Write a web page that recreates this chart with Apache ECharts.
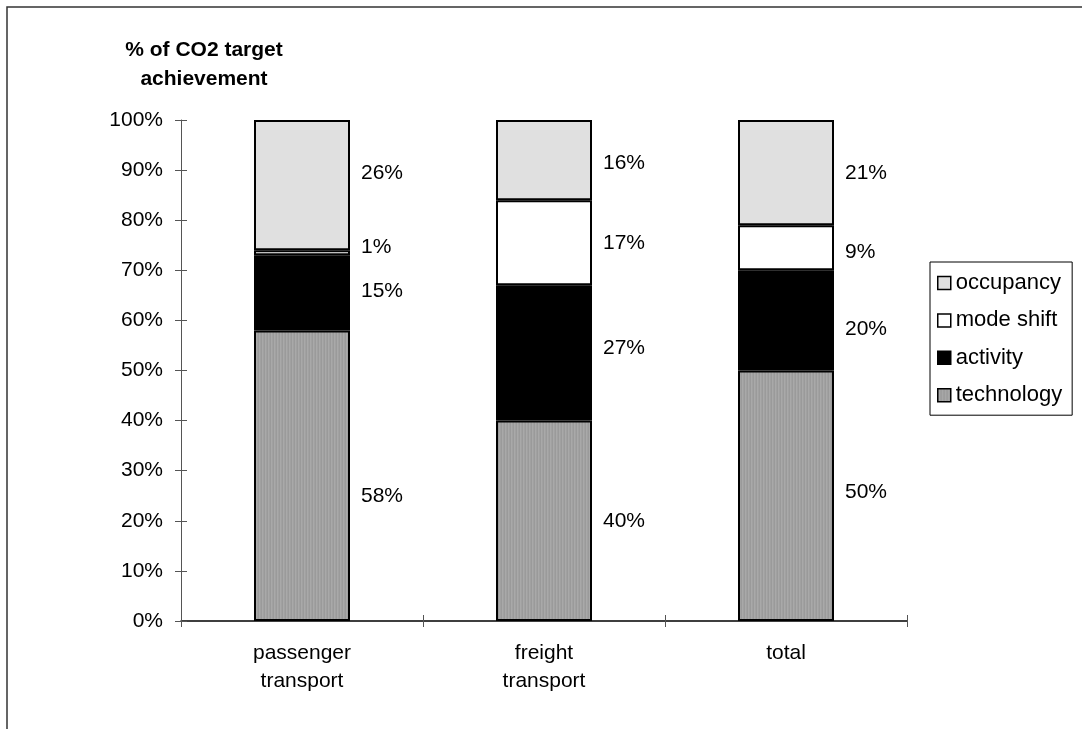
<!DOCTYPE html>
<html>
<head>
<meta charset="utf-8">
<script src="https://cdn.jsdelivr.net/npm/echarts@6/dist/echarts.min.js"></script>
<style>
  html, body { margin: 0; padding: 0; background: #fff; }
  #chart { width: 1082px; height: 729px; }
</style>
</head>
<body>
<div id="chart"></div>
<script>
// Share of CO2 target achievement by measure, per transport segment
const categories = ['passenger\ntransport', 'freight\ntransport', 'total'];
const technology = [58, 40, 50];
const activity   = [15, 27, 20];
const modeShift  = [1, 17, 9];
const occupancy  = [26, 16, 21];
const yTicks = [0, 10, 20, 30, 40, 50, 60, 70, 80, 90, 100];

// vertical nudges (px) for individual value labels
const labelNudge = {
  technology: [20, 0, -4],
  activity:   [-2, -5, 9],
  'mode shift': [-6, 0, 4],
  occupancy:  [-12, 3, 1]
};

// fine vertical hatching for the technology segment
function stripePattern() {
  const c = document.createElement('canvas');
  c.width = 3; c.height = 4;
  const g = c.getContext('2d');
  const cols = ['#9a9a9a', '#a9a9a9', '#a1a1a1'];
  for (let i = 0; i < 3; i++) { g.fillStyle = cols[i]; g.fillRect(i, 0, 1, 4); }
  return { image: c, repeat: 'repeat' };
}

const FONT = 'Liberation Sans, Arial, sans-serif';
const AXIS_GREY = '#555';
function seg(name, values, fill) {
  return {
    name, type: 'bar', stack: 'all', barWidth: 96,
    data: values.map((v, i) => ({
      value: v,
      label: { offset: [0, labelNudge[name][i]] }
    })),
    itemStyle: { color: fill, borderColor: '#000', borderWidth: 2 },
    label: {
      show: true, position: 'right', distance: 11,
      color: '#000', fontFamily: FONT, fontSize: 21,
      formatter: p => p.value + '%'
    }
  };
}

const chart = echarts.init(document.getElementById('chart'), null, { renderer: 'canvas' });
chart.setOption({
  animation: false,
  backgroundColor: '#fff',
  grid: { left: 181, right: 175, top: 120, bottom: 108 },
  graphic: [
    { type: 'rect', shape: { x: 7, y: 7, width: 1200, height: 800 },
      style: { fill: 'none', stroke: '#333', lineWidth: 1.5 }, silent: true },
    { type: 'text', x: 204, y: 36,
      style: { text: '% of CO2 target\nachievement', align: 'center', verticalAlign: 'top',
        font: 'bold 21px ' + FONT, fill: '#000', lineHeight: 29 } }
  ],
  legend: {
    orient: 'vertical', left: 930, top: 262,
    padding: [10, 10, 9, 7], itemGap: 15.4,
    itemWidth: 13, itemHeight: 13, icon: 'rect',
    borderColor: '#000', borderWidth: 1,
    textStyle: { fontFamily: FONT, fontSize: 22, color: '#000', lineHeight: 20 },
    itemStyle: { borderColor: '#000', borderWidth: 1.5 },
    data: ['occupancy', 'mode shift', 'activity', 'technology']
  },
  xAxis: [
    { type: 'category', data: categories, position: 'bottom',
      axisLine: { lineStyle: { color: '#000', width: 1.5 } },
      axisTick: { show: true, length: 6, lineStyle: { color: AXIS_GREY } },
      axisLabel: { fontFamily: FONT, fontSize: 21, color: '#000', margin: 18, lineHeight: 28 } },
    { type: 'category', data: categories, position: 'bottom', gridIndex: 0,
      axisLine: { show: false },
      axisTick: { show: true, inside: true, length: 6, lineStyle: { color: AXIS_GREY } },
      axisLabel: { show: false } }
  ],
  yAxis: [
    { type: 'value', min: 0, max: 100, interval: 10,
      axisLine: { show: true, lineStyle: { color: AXIS_GREY, width: 1 } },
      axisTick: { show: true, length: 6, lineStyle: { color: AXIS_GREY } },
      splitLine: { show: false },
      axisLabel: { fontFamily: FONT, fontSize: 21, color: '#000', margin: 18,
        formatter: v => yTicks.includes(v) ? v + '%' : '' } },
    { type: 'value', min: 0, max: 100, interval: 10, position: 'left',
      axisLine: { show: false },
      axisTick: { show: true, inside: true, length: 6, lineStyle: { color: AXIS_GREY } },
      splitLine: { show: false }, axisLabel: { show: false } }
  ],
  series: [
    seg('technology', technology, stripePattern()),
    seg('activity', activity, '#000'),
    seg('mode shift', modeShift, '#fff'),
    seg('occupancy', occupancy, '#e0e0e0')
  ]
});
</script>
</body>
</html>
